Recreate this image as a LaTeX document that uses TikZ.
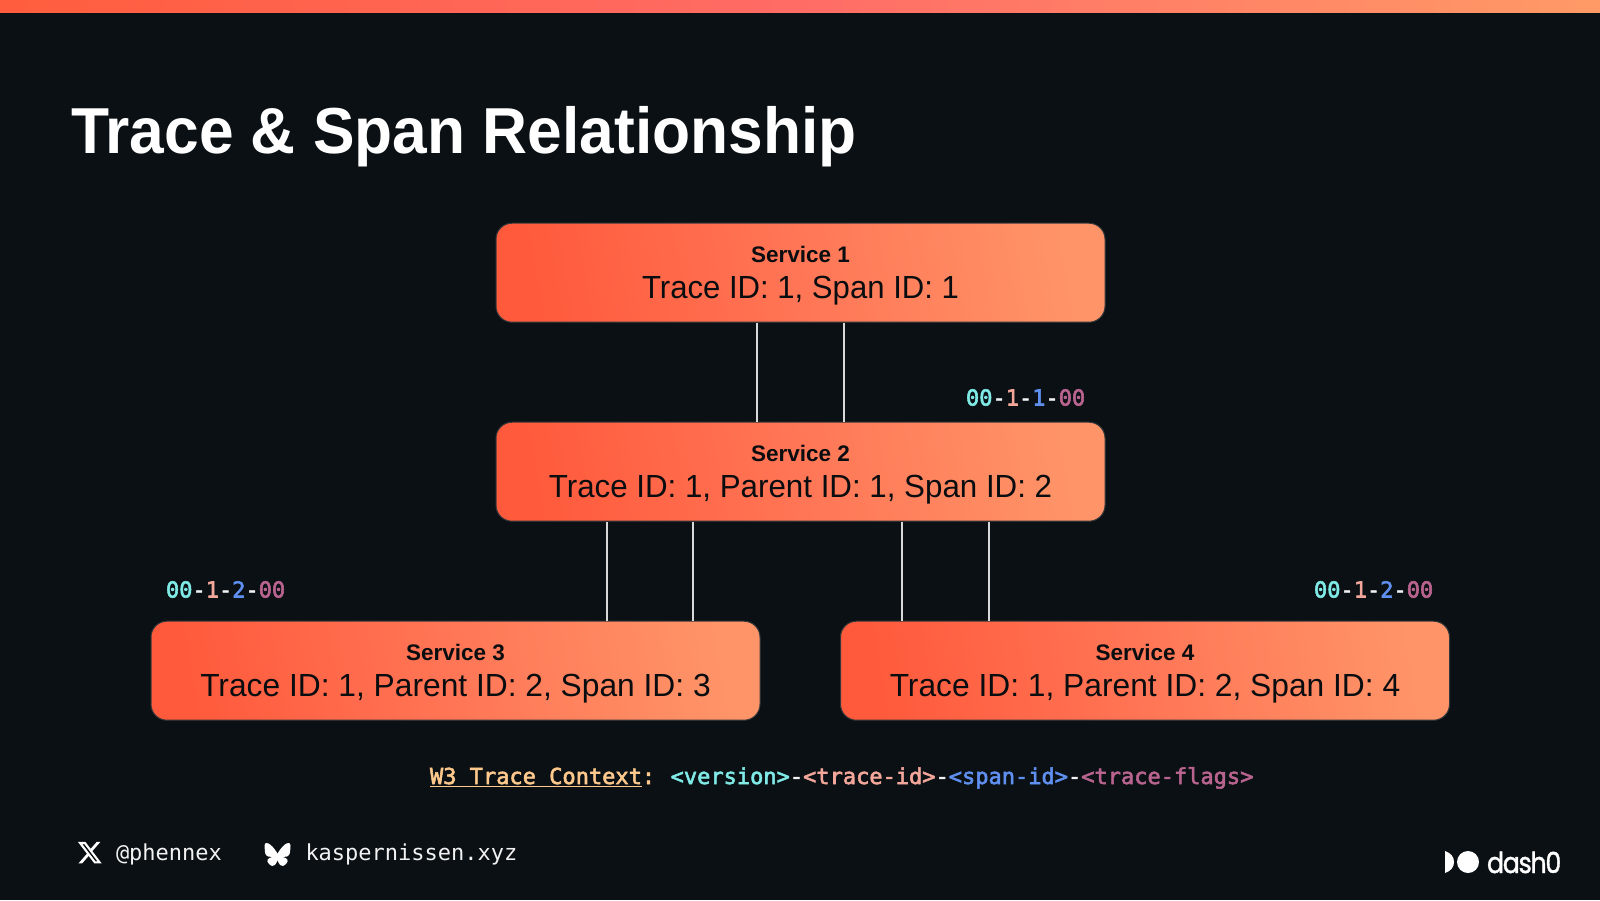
\documentclass[tikz,border=0pt]{standalone}
\usepackage{fontspec}
\usetikzlibrary{calc}
\setmainfont{Liberation Sans}
\newfontfamily\monof{DejaVu Sans Mono}
\newfontfamily\monom[FakeBold=2.5]{DejaVu Sans Mono}
\newfontfamily\logof[FakeBold=1.5,LetterSpace=-5]{Poppins}
\definecolor{bgc}{HTML}{0A1014}
\definecolor{ink}{HTML}{0A0D10}
\definecolor{gl}{HTML}{FF5A3C}
\definecolor{gm}{HTML}{FF7656}
\definecolor{gr}{HTML}{FF9468}
\definecolor{barl}{HTML}{FF5D3D}
\definecolor{barm}{HTML}{FF6C66}
\definecolor{barr}{HTML}{FF9A66}
\definecolor{edgec}{HTML}{35383A}
\definecolor{cver}{HTML}{7FEAE6}
\definecolor{ctr}{HTML}{F3A79B}
\definecolor{csp}{HTML}{5F8FEF}
\definecolor{cfl}{HTML}{B9648F}
\definecolor{cw}{HTML}{FFC88C}
\definecolor{cdash}{HTML}{F2F2F2}
\definecolor{cline}{HTML}{D9D9D9}
\newcommand{\fsz}[1]{\fontsize{#1}{#1}\selectfont}
\newcommand{\tp}[4]{{\monom\fsz{22}\textcolor{cver}{#1}\textcolor{cdash}{-}\textcolor{ctr}{#2}\textcolor{cdash}{-}\textcolor{csp}{#3}\textcolor{cdash}{-}\textcolor{cfl}{#4}}}
\newcommand{\svc}[3]{\rule{0pt}{22pt}{\bfseries\fsz{22.5}#1}\\[13pt]\scalebox{#3}[1]{\fsz{32}#2}}
\tikzset{
  svcbox/.style={rectangle,rounded corners=16pt,draw=edgec,line width=1pt,left color=gl,right color=gr,middle color=gm,shading angle=100,
    minimum width=609pt,minimum height=99pt,inner sep=0pt,align=center,text=ink,anchor=north west},
  link/.style={draw=cline,line width=1.5pt},
  plain/.style={inner sep=0pt,outer sep=0pt,anchor=base west},
}
\begin{document}
\begin{tikzpicture}[x=1pt,y=-1pt]
\useasboundingbox (0,0) rectangle (1600,900);
\fill[bgc] (0,0) rectangle (1600,900);
\shade[left color=barl,right color=barr,middle color=barm] (0,0) rectangle (1600,12);
\node[plain,text=white] (title) at (71,153) {\scalebox{.958}[1]{\bfseries\fsz{65}Trace \& Span Relationship}};
\node[svcbox] (s1) at (495.5,222.7) {\svc{Service 1}{Trace ID: 1, Span ID: 1}{.972}};
\node[svcbox] (s2) at (495.5,421.7) {\svc{Service 2}{Trace ID: 1, Parent ID: 1, Span ID: 2}{.978}};
\node[svcbox] (s3) at (150.5,620.7) {\svc{Service 3}{Trace ID: 1, Parent ID: 2, Span ID: 3}{.992}};
\node[svcbox] (s4) at (840,620.7) {\svc{Service 4}{Trace ID: 1, Parent ID: 2, Span ID: 4}{.992}};
\draw[link] ($(s1.south)+(-43.5,0)$) -- ($(s2.north)+(-43.5,0)$);
\draw[link] ($(s1.south)+(43.5,0)$) -- ($(s2.north)+(43.5,0)$);
\draw[link] ($(s3.north)+(151.5,0)$) -- ($(s2.south)+(-193.5,0)$);
\draw[link] ($(s3.north)+(237.5,0)$) -- ($(s2.south)+(-107.5,0)$);
\draw[link] ($(s4.north)+(-243,0)$) -- ($(s2.south)+(101.5,0)$);
\draw[link] ($(s4.north)+(-156,0)$) -- ($(s2.south)+(188.5,0)$);
\node[plain] (t1) at (966,405.5) {\tp{00}{1}{1}{00}};
\node[plain] (t2) at (166,597.5) {\tp{00}{1}{2}{00}};
\node[plain] (t3) at (1314,597.5) {\tp{00}{1}{2}{00}};
\node[plain] (w3) at (430,784) {\monom\fsz{22}\textcolor{cw}{\underline{W3 Trace Context}:}\hspace{15.5pt}\textcolor{cver}{<version>}\textcolor{cdash}{-}\textcolor{ctr}{<trace-id>}\textcolor{cdash}{-}\textcolor{csp}{<span-id>}\textcolor{cdash}{-}\textcolor{cfl}{<trace-flags>}};
% X icon
\begin{scope}[shift={(76.6,839.5)},x=1.1pt,y=-1.1pt]
\fill[white,even odd rule] (18.244,2.25) -- (21.552,2.25) -- (14.325,10.51) -- (22.827,21.75) -- (16.17,21.75) -- (10.956,14.933) -- (4.99,21.75) -- (1.68,21.75) -- (9.41,12.915) -- (1.254,2.25) -- (8.08,2.25) -- (12.793,8.481) -- cycle
  (17.083,19.77) -- (18.916,19.77) -- (7.084,4.126) -- (5.117,4.126) -- cycle;
\end{scope}
\node[plain,text=cdash] (handle) at (116,860) {\monof\fsz{22}@phennex};
% butterfly icon
\begin{scope}[shift={(264.5,843)},x=0.0458pt,y=-0.0458pt]
\fill[white] (123.121,33.664) .. controls (188.241,82.553) and (258.281,181.68) .. (284,234.873)
 .. controls (309.719,181.681) and (379.759,82.553) .. (444.879,33.663)
 .. controls (491.866,-1.611) and (568,-28.906) .. (568,57.947)
 .. controls (568,75.293) and (558.055,203.66) .. (552.222,224.502)
 .. controls (531.947,296.955) and (458.067,315.435) .. (392.347,304.25)
 .. controls (507.222,323.8) and (536.444,388.56) .. (473.333,453.32)
 .. controls (353.473,576.312) and (301.061,422.461) .. (287.631,383.039)
 -- (284,375.3) -- (280.369,383.039)
 .. controls (266.939,422.461) and (214.527,576.312) .. (94.667,453.32)
 .. controls (31.556,388.56) and (60.778,323.8) .. (175.653,304.25)
 .. controls (109.933,315.435) and (36.053,296.955) .. (15.778,224.502)
 .. controls (9.945,203.66) and (0,75.293) .. (0,57.947)
 .. controls (0,-28.906) and (76.134,-1.611) .. (123.121,33.664) -- cycle;
\end{scope}
\node[plain,text=cdash] (site) at (305.5,860) {\monof\fsz{22}kaspernissen.xyz};
% logo
\fill[white] (1445,851) .. controls (1451,853) and (1454,857) .. (1454,862) .. controls (1454,867) and (1451,871) .. (1445,873) -- cycle;
\fill[white] (1468,862) circle[radius=11];
\node[plain,text=white] (logo) at (1487,873) {\scalebox{.87}[1]{\logof\fsz{29}dash0}};
\end{tikzpicture}
\end{document}
